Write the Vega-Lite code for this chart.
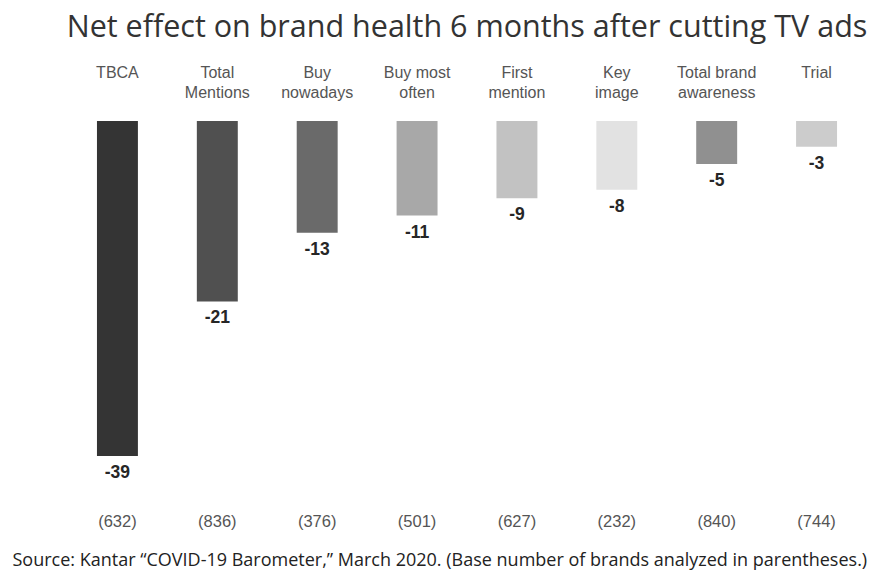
{
  "$schema": "https://vega.github.io/schema/vega-lite/v6.json",
  "autosize": "none",
  "width": 800,
  "height": 378,
  "padding": {"left": 67, "top": 121, "right": 7, "bottom": 72},
  "background": "white",
  "config": {"view": {"stroke": null}},
  "title": {
    "text": "Net effect on brand health 6 months after cutting TV ads",
    "font": "Open Sans",
    "fontSize": 30.5,
    "fontWeight": "normal",
    "color": "#333333",
    "anchor": "middle",
    "baseline": "alphabetic",
    "offset": -3
  },
  "data": {
    "values": [
      {"measure": "TBCA", "change": -39, "brands": 632},
      {"measure": "Total Mentions", "change": -21, "brands": 836},
      {"measure": "Buy nowadays", "change": -13, "brands": 376},
      {"measure": "Buy most often", "change": -11, "brands": 501},
      {"measure": "First mention", "change": -9, "brands": 627},
      {"measure": "Key image", "change": -8, "brands": 232},
      {"measure": "Total brand awareness", "change": -5, "brands": 840},
      {"measure": "Trial", "change": -3, "brands": 744}
    ]
  },
  "resolve": {"axis": {"x": "independent"}},
  "layer": [
    {
      "mark": {"type": "bar"},
      "encoding": {
        "x": {
          "field": "measure",
          "type": "nominal",
          "sort": null,
          "scale": {"paddingInner": 0.59, "paddingOuter": 0.3},
          "axis": {
            "orient": "top",
            "title": null,
            "domain": false,
            "ticks": false,
            "tickSize": 0,
            "labelPadding": 44,
            "labelAngle": 0,
            "labelBaseline": "alphabetic",
            "labelFont": "Liberation Sans",
            "labelFontSize": 16,
            "labelColor": "#555555",
            "labelLineHeight": 20,
            "labelExpr": "indexof(datum.value, ' ') < 0 ? datum.value : [substring(datum.value, 0, lastindexof(datum.value, ' ')), substring(datum.value, lastindexof(datum.value, ' ') + 1)]"
          }
        },
        "y": {
          "field": "change",
          "type": "quantitative",
          "scale": {"domain": [-44, 0], "nice": false, "zero": true},
          "axis": null
        },
        "color": {
          "field": "measure",
          "type": "nominal",
          "legend": null,
          "scale": {
            "domain": ["TBCA", "Total Mentions", "Buy nowadays", "Buy most often", "First mention", "Key image", "Total brand awareness", "Trial"],
            "range": ["#343434", "#505050", "#6a6a6a", "#a8a8a8", "#c2c2c2", "#e2e2e2", "#909090", "#cccccc"]
          }
        }
      }
    },
    {
      "mark": {"type": "text", "baseline": "middle", "dy": 17, "font": "Liberation Sans", "fontWeight": "bold", "fontSize": 17.5, "color": "#262626"},
      "encoding": {
        "x": {
          "field": "measure",
          "type": "nominal",
          "sort": null,
          "axis": {
            "orient": "bottom",
            "labels": false,
            "ticks": false,
            "domain": false,
            "title": "Source: Kantar \u201cCOVID-19 Barometer,\u201d March 2020. (Base number of brands analyzed in parentheses.)",
            "titleFont": "Open Sans",
            "titleFontSize": 18,
            "titleFontWeight": "normal",
            "titleColor": "#222222",
            "titleAlign": "left",
            "titleBaseline": "alphabetic",
            "titleX": -55,
            "titlePadding": 66
          }
        },
        "y": {"field": "change", "type": "quantitative"},
        "text": {"field": "change", "type": "nominal"}
      }
    },
    {
      "mark": {"type": "text", "baseline": "middle", "font": "Liberation Sans", "fontSize": 16.5, "color": "#555555"},
      "encoding": {
        "x": {"field": "measure", "type": "nominal", "sort": null, "axis": null},
        "y": {"datum": -46.7, "type": "quantitative"},
        "text": {"value": {"expr": "'(' + datum.brands + ')'"}}
      }
    }
  ]
}
